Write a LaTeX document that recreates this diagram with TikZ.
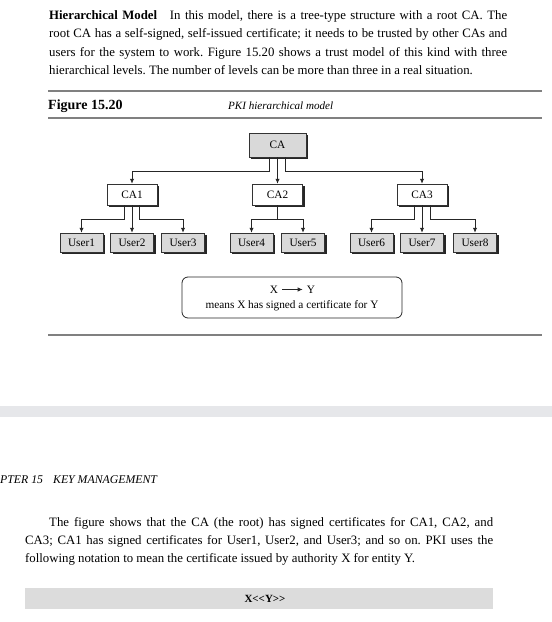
\documentclass[tikz,border=0pt]{standalone}
\usepackage{fontspec}
\setmainfont{Liberation Serif}
\usetikzlibrary{arrows, arrows.meta}
\usetikzlibrary{shadows}
\definecolor{boxgray}{HTML}{D9D9D9}
\definecolor{rulegray}{HTML}{808080}
\definecolor{bandgray}{HTML}{E6E7EA}
\definecolor{notegray}{HTML}{DCDCDC}
\frenchspacing
\tikzset{
  txt/.style={anchor=base west, inner sep=0pt, font=\fontsize{12.8}{15}\selectfont},
  small/.style={inner sep=0pt, font=\fontsize{11.3}{13}\selectfont},
  shadowed/.style={draw=black!80, line width=0.5pt, inner sep=0pt,
    drop shadow={shadow xshift=2pt, shadow yshift=-2pt, fill=black!85, opacity=1}},
  rootbox/.style={shadowed, small, fill=boxgray, minimum width=57pt, minimum height=24pt},
  cabox/.style={shadowed, small, fill=white, minimum width=50pt, minimum height=21pt},
  userbox/.style={shadowed, small, fill=boxgray, minimum width=43pt, minimum height=19pt},
  link/.style={draw=black!85, line width=0.9pt},
  rule/.style={draw=rulegray, line width=1.2pt},
}

\begin{document}
\begin{tikzpicture}[x=1pt,y=-1pt,>={Latex[length=5pt,width=4.5pt]}]
\useasboundingbox (0,0) rectangle (552,622);
% text above the figure
\node[txt] (p1) at (49,19) {\makebox[458pt][s]{\textbf{Hierarchical Model}\quad In this model, there is a tree-type structure with a root CA. The}};
\node[txt] (p2) at (49,37.5) {\makebox[458pt][s]{root CA has a self-signed, self-issued certificate; it needs to be trusted by other CAs and}};
\node[txt] (p3) at (49,56) {\makebox[458pt][s]{users for the system to work. Figure 15.20 shows a trust model of this kind with three}};
\node[txt] (p4) at (49,74.5) {hierarchical levels. The number of levels can be more than three in a real situation.};

% caption
\draw[rule] (48,91) -- (542,91);
\node[txt, font=\bfseries\fontsize{14}{16}\selectfont] (fig) at (48,109) {Figure 15.20};
\node[txt, font=\itshape\fontsize{11.1}{13}\selectfont] (cap) at (228,109) {PKI hierarchical model};
\draw[rule] (48,118) -- (542,118);

% the tree
\node[rootbox] (CA) at (277.5,145) {CA};
\node[cabox] (CA1) at (132,194.5) {CA1};
\node[cabox] (CA2) at (277.5,194.5) {CA2};
\node[cabox] (CA3) at (422,194.5) {CA3};
\foreach \n/\x in {1/81.5,2/132,3/183,4/251.5,5/303,6/371.5,7/422,8/475}
  \node[userbox] (U\n) at (\x,242.5) {User\n};

\draw[link,->] ([xshift=-8pt]CA.south) -- ++(0,14) -| (CA1.north);
\draw[link,->] (CA.south) -- (CA2.north);
\draw[link,->] ([xshift=8pt]CA.south) -- ++(0,14) -| (CA3.north);

\draw[link,->] ([xshift=-8pt]CA1.south) -- ++(0,14) -| (U1.north);
\draw[link,->] (CA1.south) -- (U2.north);
\draw[link,->] ([xshift=7pt]CA1.south) -- ++(0,14) -| (U3.north);

\draw[link] (CA2.south) -- ++(0,14) coordinate (j2);
\draw[link,->] (j2) -| (U4.north);
\draw[link,->] (j2) -| (U5.north);

\draw[link,->] ([xshift=-8pt]CA3.south) -- ++(0,14) -| (U6.north);
\draw[link,->] (CA3.south) -- (U7.north);
\draw[link,->] ([xshift=8pt]CA3.south) -- ++(0,14) -| (U8.north);

% key
\node[draw=black!85, line width=0.8pt, rounded corners=6pt, minimum width=220pt, minimum height=41pt] (key) at (292,297.5) {};
\node[small, inner xsep=4pt] (X) at (274,289.5) {X};
\node[small, inner xsep=4pt] (Y) at (311,289.5) {Y};
\draw[link,->] (X) -- (Y);
\node[small] (means) at (292,305.5) {means X has signed a certificate for Y};
\draw[rule] (48,335) -- (542,335);

% page break
\fill[bandgray] (0,406) rectangle (552,417);
\node[txt, font=\itshape\fontsize{11.8}{14}\selectfont] (chap) at (0,483) {PTER 15\hspace{10pt}KEY MANAGEMENT};

% text below
\node[txt] (q1) at (49,526) {\makebox[444pt][s]{The figure shows that the CA (the root) has signed certificates for CA1, CA2, and}};
\node[txt] (q2) at (25,544) {\makebox[468pt][s]{CA3; CA1 has signed certificates for User1, User2, and User3; and so on. PKI uses the}};
\node[txt] (q3) at (25,562) {following notation to mean the certificate issued by authority X for entity Y.};
\node[fill=notegray, inner sep=0pt, minimum width=468pt, minimum height=21pt] (note) at (259,598.5) {};
\node[inner sep=0pt, font=\bfseries\fontsize{11}{13}\selectfont] (cert) at (265,598.5) {X<\kern0pt<Y>\kern0pt>};
\end{tikzpicture}
\end{document}
